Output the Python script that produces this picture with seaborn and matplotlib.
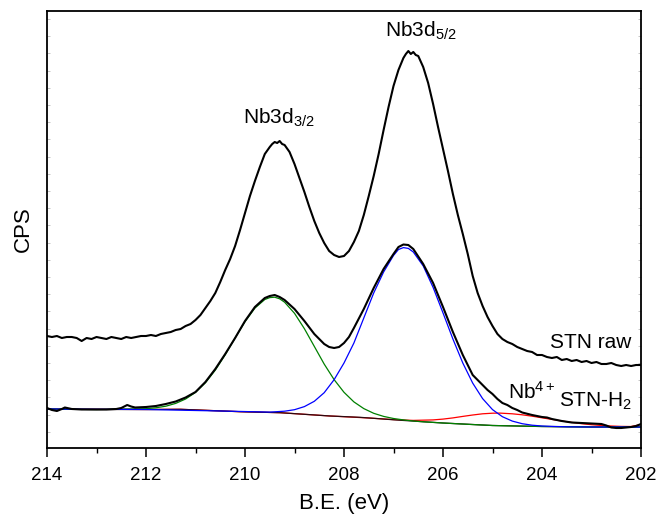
import numpy as np
import pandas as pd
import matplotlib
matplotlib.use("Agg")
import matplotlib.pyplot as plt
import seaborn as sns
from matplotlib.ticker import MultipleLocator, FixedLocator, NullFormatter

# ---------------- data (binding energy in eV, intensity in arbitrary CPS units) -------------
# STN raw spectrum
raw_be = [214.0, 213.9, 213.8, 213.7, 213.6, 213.5, 213.4, 213.3, 213.2, 213.1, 213.0, 212.9,
          212.8, 212.7, 212.6, 212.5, 212.4, 212.3, 212.2, 212.1, 212.0, 211.9, 211.8, 211.7,
          211.6, 211.5, 211.4, 211.3, 211.2, 211.1,
          211.0, 210.9, 210.8, 210.7, 210.6, 210.5, 210.4, 210.3, 210.2, 210.1, 210.0, 209.9,
          209.8, 209.7, 209.6, 209.5, 209.45, 209.4, 209.35, 209.3, 209.25, 209.2, 209.1, 209.0,
          208.9, 208.8, 208.7, 208.6, 208.5, 208.4, 208.3, 208.2, 208.1, 208.0, 207.9, 207.8,
          207.7, 207.6, 207.5, 207.4, 207.3, 207.2, 207.1, 207.0, 206.9, 206.8, 206.75, 206.7,
          206.65, 206.6, 206.55, 206.5, 206.4, 206.3,
          206.2, 206.1, 206.0, 205.9, 205.8, 205.7, 205.6, 205.5, 205.4, 205.3, 205.2, 205.1,
          205.0, 204.9, 204.8, 204.7, 204.6, 204.5, 204.4, 204.3, 204.2, 204.1, 204.0, 203.9,
          203.8, 203.7, 203.6, 203.5, 203.4, 203.3, 203.2, 203.1, 203.0, 202.9, 202.8, 202.7,
          202.6, 202.5, 202.4, 202.3, 202.2, 202.1, 202.0]
raw_cps = [112, 111, 112, 110, 111, 111, 110, 107, 110, 109, 111, 110,
           109, 111, 110, 109, 111, 110, 111, 112, 112, 113, 112, 114,
           115, 116, 118, 119, 122, 124,
           128, 133, 140, 147, 155, 166, 178, 189, 202, 218, 235, 252,
           267, 281, 294, 301, 304, 306, 305, 307, 304, 303, 296, 284,
           270, 256, 241, 227, 215, 205, 197, 193, 191, 192, 197, 206,
           217, 233, 252, 272, 294, 318, 341, 362, 378, 390, 394, 397,
           394, 396, 393, 392, 381, 365,
           344, 321, 299, 277, 254, 233, 214, 194, 172, 155, 142, 131,
           122, 114, 109, 106, 104, 101, 99, 97, 96, 93, 93, 91,
           90, 91, 88, 89, 87, 88, 86, 87, 85, 86, 84, 84,
           85, 83, 82, 83, 82, 83, 83]

# STN-H2 spectrum
h2_be = [214.0, 213.9, 213.8, 213.7, 213.64, 213.5, 213.3, 213.0, 212.8, 212.6, 212.5, 212.38,
         212.3, 212.22, 212.0, 211.8, 211.6, 211.4, 211.2, 211.0, 210.8, 210.6, 210.4, 210.2,
         210.0, 209.8, 209.6, 209.5, 209.4, 209.3, 209.2, 209.0, 208.8, 208.6, 208.4, 208.3,
         208.2, 208.1, 208.0, 207.9, 207.8, 207.6, 207.4, 207.2, 207.0, 206.9, 206.8, 206.7,
         206.6, 206.4, 206.2, 206.0, 205.8, 205.6, 205.4, 205.3, 205.2, 205.1, 205.0, 204.9,
         204.8, 204.7, 204.6, 204.5, 204.4, 204.2, 204.0, 203.9, 203.8, 203.6, 203.4, 203.2,
         203.0, 202.8, 202.7, 202.6, 202.5, 202.4, 202.3, 202.2, 202.1, 202.0]
h2_cps = [40, 38, 37, 39, 40.5, 39, 38.5, 38.5, 38.5, 39, 40, 43,
          41.5, 40.5, 41, 42, 44, 46.5, 50.5, 56, 66, 79, 94, 110,
          127, 141, 150, 152, 153, 151, 148, 139, 127, 114, 104, 101,
          100, 101, 105, 111, 120, 139, 160, 179, 194, 201, 203.5, 203,
          199, 184, 165, 141, 116, 93, 73, 68, 63, 58, 54, 49,
          45, 43, 40, 38, 35.5, 33, 31, 30.5, 29, 27, 25.5, 25,
          24.5, 24, 22.5, 20.5, 20, 20, 20.5, 21, 22, 24]

# Fitted component Nb3d3/2 (green)
d32_be = [214.0, 213.0, 212.0, 211.8, 211.6, 211.4, 211.2, 211.0, 210.8, 210.6, 210.4, 210.2,
          210.0, 209.8, 209.6, 209.5, 209.4, 209.3, 209.2, 209.0, 208.8, 208.6, 208.4, 208.2,
          208.0, 207.8, 207.6, 207.4, 207.2, 207.0, 206.8, 206.6, 206.4, 206.0, 205.5, 205.0,
          204.0, 203.0, 202.0]
d32_cps = [39, 38.5, 39.3, 40.2, 41.8, 44.6, 49.0, 55.6, 65.2, 77.9, 93.2, 110.0,
           126.3, 139.9, 148.5, 150.4, 150.8, 149.2, 145.8, 134.7, 119.3, 101.6, 83.9, 68.4,
           55.7, 46.1, 39.4, 34.7, 31.6, 29.5, 28.1, 27.0, 26.2, 25.0, 23.7, 22.5,
           21.5, 21.0, 21.0]

# Fitted component Nb3d5/2 (blue)
d52_be = [214.0, 212.0, 210.5, 209.5, 209.2, 209.0, 208.8, 208.6, 208.4, 208.2, 208.0, 207.8,
          207.6, 207.4, 207.2, 207.0, 206.9, 206.8, 206.7, 206.6, 206.4, 206.2, 206.0, 205.8,
          205.6, 205.4, 205.2, 205.0, 204.8, 204.6, 204.4, 204.2, 204.0, 203.8, 203.5, 203.0,
          202.0]
d52_cps = [39, 38.5, 37, 35.9, 36.8, 38.3, 41.4, 46.7, 55.3, 68.3, 85, 105,
           130, 155, 176, 192.5, 198.5, 200.4, 199.6, 196.0, 182.1, 160.6, 135.1, 109.0,
           85.0, 64.9, 49.4, 38.4, 31.3, 26.9, 24.3, 22.8, 22.0, 21.6, 21.2, 21.0,
           21.0]

# Fitted component Nb4+ (red)
nb4_be = [214.0, 212.0, 211.3, 210.1, 209.29, 208.28, 207.5, 207.0, 206.6, 206.2, 206.0, 205.8,
          205.6, 205.4, 205.2, 205.0, 204.85, 204.6, 204.4, 204.2, 204.0, 203.8, 203.6, 203.4,
          203.2, 203.0, 202.8, 202.6, 202.4, 202.2, 202.0]
nb4_cps = [39, 38.5, 38.7, 36.3, 35.3, 32, 30.0, 28.4, 27.6, 28.1, 28.9, 30.1,
           31.6, 33.0, 34.2, 34.8, 34.9, 34.2, 33.2, 31.8, 30.2, 28.6, 27.0, 25.6,
           24.3, 23.3, 22.5, 22.0, 21.6, 21.5, 23.5]

# Background
bg_be = [214.0, 213.0, 212.0, 211.3, 210.1, 209.29, 208.28, 207.68, 206.94, 206.0, 205.0,
         204.0, 203.0, 202.0]
bg_cps = [39, 38.5, 38.5, 38.7, 36.3, 35.3, 32, 30.7, 28, 25, 22.5, 21.5, 21, 21]

x_ticks = [214, 212, 210, 208, 206, 204, 202]
x_tick_labels = ["214", "212", "210", "208", "206", "204", "202"]

# ---------------- styling ----------------
sns.set_style("ticks")
plt.rcParams["font.family"] = ["Liberation Sans", "DejaVu Sans"]
plt.rcParams["mathtext.fontset"] = "custom"
plt.rcParams["mathtext.rm"] = "Liberation Sans"
plt.rcParams["mathtext.it"] = "Liberation Sans"
plt.rcParams["mathtext.default"] = "regular"
plt.rcParams["text.color"] = "black"
plt.rcParams["axes.labelcolor"] = "black"
plt.rcParams["axes.edgecolor"] = "black"
plt.rcParams["xtick.color"] = "black"
plt.rcParams["xtick.labelcolor"] = "black"

fig = plt.figure(figsize=(6.57, 5.2), dpi=100)
ax = fig.add_axes([47 / 657, 1 - 448 / 520, (641 - 47) / 657, (448 - 11) / 520])

def draw(be, cps, color, lw):
    df = pd.DataFrame({"be": be, "cps": cps})
    sns.lineplot(data=df, x="be", y="cps", sort=False, color=color, lw=lw, ax=ax,
                 estimator=None)

draw(nb4_be, nb4_cps, "#ff0000", 0.9)
draw(bg_be, bg_cps, "#2a0a10", 0.9)
draw(d32_be, d32_cps, "#008000", 0.9)
draw(d52_be, d52_cps, "#0000ff", 0.9)
draw(h2_be, h2_cps, "black", 1.5)
draw(raw_be, raw_cps, "black", 1.5)

ax.set_xlim(214, 202)
ax.set_ylim(0, 437)
ax.set_xticks(x_ticks)
ax.set_xticklabels(x_tick_labels)
ax.xaxis.set_minor_locator(MultipleLocator(1))
ax.tick_params(axis="x", which="major", direction="out", length=6.5, width=1.1,
               labelsize=13.5, pad=7, top=False, colors="black")
ax.tick_params(axis="x", which="minor", direction="out", length=3.5, width=1.0, top=False,
               colors="black")
ax.yaxis.set_major_locator(FixedLocator(list(np.arange(16.3, 437, 17.2))))
ax.yaxis.set_major_formatter(NullFormatter())
ax.tick_params(axis="y", which="major", direction="in", length=2, width=0.6,
               color="#bbbbbb", left=True, right=True)
for s in ax.spines.values():
    s.set_linewidth(1.3)
    s.set_color("black")
    s.set_visible(True)

ax.set_xlabel("B.E. (eV)", fontsize=16, labelpad=7)
ax.set_ylabel("CPS", fontsize=16, labelpad=6)

ax.text(209.31, 324, "Nb3d$_{3/2}$", fontsize=15, ha="center", va="baseline")
ax.text(206.44, 411, "Nb3d$_{5/2}$", fontsize=15, ha="center", va="baseline")
ax.text(203.01, 100, "STN raw", fontsize=15, ha="center", va="baseline")
ax.text(204.2, 49, "Nb$^{4+}$", fontsize=15, ha="center", va="baseline")
ax.text(202.91, 41, "STN-H$_2$", fontsize=15, ha="center", va="baseline")

fig.savefig("out.png", dpi=100)
